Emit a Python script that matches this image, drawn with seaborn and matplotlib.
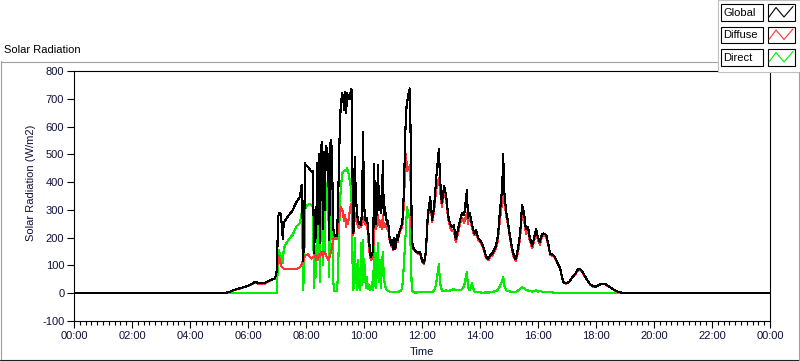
import matplotlib
matplotlib.use("Agg")
import numpy as np
import pandas as pd
import matplotlib.pyplot as plt
import seaborn as sns
from matplotlib.patches import Rectangle
from matplotlib.lines import Line2D
from matplotlib.ticker import FixedLocator, MultipleLocator

# ---------------- data (minutes since midnight, W/m2) ----------------
minutes = [
    0, 312, 323, 333, 343, 354, 364, 375, 381, 395, 401, 416, 420,
    422, 424, 426, 428, 430, 432, 434, 437, 441, 445, 449, 453, 457, 461, 466,
    468, 470, 472, 474, 476, 478, 480, 484, 488, 492, 494, 497, 499, 501, 503,
    505, 507, 509, 511, 513, 515, 517, 519, 521, 523, 526, 528, 530, 532, 534,
    536, 538, 540, 542, 544, 546, 548, 550, 552, 555, 557, 559, 561, 563, 565,
    567, 569, 571, 573, 575, 577, 579, 581, 583, 586, 588, 590, 592, 594, 596,
    598, 600, 602, 604, 606, 608, 610, 612, 614, 617, 619, 621, 623, 625, 627,
    629, 631, 633, 635, 637, 639, 641, 643, 646, 648, 650, 652, 654, 656, 658,
    660, 662, 664, 666, 668, 670, 672, 675, 677, 679, 681, 683, 685, 687, 689,
    691, 693, 695, 697, 699,
    703, 708, 712, 716, 720, 724, 728, 732, 737, 741, 745, 749, 753, 755, 757,
    761, 766, 770, 774, 778, 782, 786, 790, 795, 799, 803, 807, 811, 813, 815,
    819, 823, 828, 832, 836, 840, 844, 848, 852, 857, 861, 865, 869, 873, 877,
    881, 886, 888, 890, 894, 898, 902, 906, 910, 914, 919, 923, 927, 931, 935,
    939, 943, 948, 952, 956, 960, 964, 968, 972, 977, 981, 985, 989, 993, 997,
    1001, 1006,
    1012, 1018, 1024, 1030, 1037, 1043, 1049, 1055, 1061, 1068, 1074, 1080,
    1086, 1092, 1099, 1105, 1111, 1117, 1123, 1130, 1136, 1142, 1440,
]

global_rad = [
    0, 0, 6, 13, 18, 23, 30, 41, 37, 37, 43, 54, 83,
    270, 288, 290, 285, 240, 195, 255, 263, 272, 282, 290, 300, 318, 330, 342,
    350, 385, 389, 115, 200, 467, 460, 455, 445, 436, 440, 145, 300, 200, 470,
    250, 500, 180, 520, 545, 230, 510, 300, 530, 520, 480, 190, 540, 550, 490,
    240, 215, 205, 210, 205, 300, 450, 600, 680, 720, 700, 660, 725, 650, 720,
    700, 715, 700, 735, 731, 216, 230, 490, 350, 280, 260, 250, 255, 245, 300,
    580, 330, 270, 260, 270, 240, 200, 160, 130, 145, 150, 465, 270, 250, 330,
    460, 300, 350, 290, 320, 475, 280, 310, 270, 250, 260, 210, 190, 175, 190,
    160, 200, 160, 170, 210, 190, 215, 230, 240, 250, 300, 400, 550, 650, 690,
    700, 730, 737, 500, 185,
    160, 150, 145, 148, 119, 108, 150, 280, 345, 265, 310, 405, 480, 521, 420,
    325, 385, 350, 280, 250, 240, 245, 195, 235, 265, 290, 280, 340, 370, 270,
    290, 250, 215, 228, 200, 190, 180, 160, 135, 122, 137, 142, 155, 170, 205,
    290, 380, 503, 370, 295, 255, 205, 165, 135, 122, 165, 215, 317, 290, 230,
    240, 200, 170, 200, 232, 200, 185, 212, 215, 210, 180, 143, 140, 135, 122,
    107, 88,
    40, 36, 40, 55, 70, 87, 85, 68, 50, 32, 25, 24,
    30, 34, 33, 27, 20, 13, 7, 3, 1, 0, 0,
]

diffuse_rad = [
    0, 0, 5, 12, 17, 22, 29, 40, 34, 34, 42, 53, 82,
    130, 133, 120, 101, 95, 92, 88, 86, 86, 86, 87, 88, 86, 88, 92,
    95, 100, 112, 112, 125, 135, 138, 140, 130, 125, 130, 130, 140, 120, 135,
    125, 140, 130, 145, 150, 130, 145, 150, 140, 130, 120, 125, 140, 150, 170,
    190, 200, 195, 200, 195, 230, 260, 290, 310, 300, 280, 260, 280, 240, 260,
    250, 280, 300, 320, 300, 210, 220, 290, 270, 250, 240, 235, 245, 240, 250,
    275, 260, 250, 245, 250, 220, 170, 140, 120, 125, 140, 265, 245, 230, 260,
    280, 250, 240, 260, 230, 280, 240, 250, 240, 230, 240, 200, 185, 170, 180,
    155, 190, 160, 165, 200, 185, 210, 225, 232, 240, 270, 360, 420, 500, 440,
    450, 445, 460, 380, 175,
    157, 148, 142, 144, 116, 104, 145, 270, 330, 258, 295, 370, 395, 415, 380,
    312, 370, 335, 270, 238, 225, 228, 183, 220, 252, 272, 252, 278, 290, 248,
    280, 240, 208, 222, 194, 185, 176, 156, 130, 118, 132, 135, 148, 160, 190,
    262, 330, 430, 335, 282, 245, 197, 158, 130, 116, 152, 198, 290, 268, 215,
    228, 190, 163, 190, 218, 192, 175, 204, 208, 203, 175, 139, 136, 132, 120,
    106, 86,
    39, 35, 39, 54, 68, 84, 82, 66, 49, 31, 24, 23,
    29, 33, 32, 26, 19, 12, 6, 3, 1, 0, 0,
]

direct_rad = [
    0, 0, 0, 0, 0, 0, 0, 0, 0, 0, 0, 0, 0,
    140, 155, 140, 130, 126, 110, 160, 173, 185, 195, 203, 212, 230, 242, 250,
    255, 287, 280, 10, 75, 300, 312, 318, 322, 315, 310, 20, 160, 60, 330,
    120, 360, 40, 370, 390, 100, 360, 150, 390, 395, 360, 60, 400, 395, 320,
    50, 10, 8, 8, 8, 60, 190, 310, 380, 430, 438, 440, 445, 440, 450,
    440, 420, 400, 380, 300, 10, 20, 200, 60, 10, 120, 20, 10, 180, 30,
    190, 40, 100, 20, 60, 15, 30, 10, 15, 40, 10, 200, 30, 20, 110,
    180, 40, 120, 20, 90, 150, 60, 30, 15, 10, 8, 8, 5, 5, 5,
    4, 5, 4, 5, 5, 6, 6, 8, 10, 20, 60, 120, 180, 240, 311,
    290, 280, 270, 120, 10,
    3, 2, 3, 4, 3, 4, 5, 4, 6, 5, 8, 30, 80, 105, 40,
    10, 8, 10, 8, 10, 12, 15, 10, 12, 10, 15, 25, 60, 78, 20,
    10, 35, 6, 5, 4, 3, 2, 2, 3, 2, 3, 5, 6, 8, 12,
    25, 45, 60, 30, 10, 8, 6, 5, 4, 5, 10, 15, 22, 18, 12,
    10, 8, 6, 8, 10, 6, 8, 6, 5, 5, 4, 3, 3, 2, 1,
    0, 0,
    0, 0, 0, 0, 0, 0, 0, 0, 0, 0, 0, 0,
    0, 0, 0, 0, 0, 0, 0, 0, 0, 0, 0,
]

series_names = ["Global", "Diffuse", "Direct"]
series_colors = {"Global": "#000000", "Diffuse": "#ff3333", "Direct": "#00ee00"}
x_tick_minutes = [0, 120, 240, 360, 480, 600, 720, 840, 960, 1080, 1200, 1320, 1440]
x_tick_labels = ["00:00", "02:00", "04:00", "06:00", "08:00", "10:00", "12:00",
                 "14:00", "16:00", "18:00", "20:00", "22:00", "00:00"]
y_ticks = [-100, 0, 100, 200, 300, 400, 500, 600, 700, 800]

# ---------------- figure ----------------
sns.set_theme(style="white")
plt.rcParams['font.family'] = ['Liberation Sans', 'DejaVu Sans']

W, H = 800, 361
fig = plt.figure(figsize=(W / 100, H / 100), dpi=100)
fig.patch.set_facecolor("white")


def P(x, y):
    return (x / W, 1 - y / H)


ax = fig.add_axes([74 / W, 40 / H, 696 / W, 250 / H])
ax.set_facecolor("white")

df = pd.concat([
    pd.DataFrame({"minute": minutes, "value": global_rad, "series": "Global"}),
    pd.DataFrame({"minute": minutes, "value": diffuse_rad, "series": "Diffuse"}),
    pd.DataFrame({"minute": minutes, "value": direct_rad, "series": "Direct"}),
], ignore_index=True)

sns.lineplot(data=df, x="minute", y="value", hue="series",
             hue_order=["Direct", "Diffuse", "Global"], palette=series_colors,
             estimator=None, sort=False, legend=False, linewidth=0.8, ax=ax)
for ln in ax.lines:
    ln.set_antialiased(False)

ax.set_xlim(0, 1440)
ax.set_ylim(-100, 800)
ax.xaxis.set_major_locator(FixedLocator(x_tick_minutes))
ax.set_xticks(x_tick_minutes)
ax.set_xticklabels(x_tick_labels)
ax.xaxis.set_minor_locator(MultipleLocator(12))
ax.set_yticks(y_ticks)
ax.set_yticklabels([str(v) for v in y_ticks])

for s in ax.spines.values():
    s.set_color("black")
    s.set_linewidth(0.8)

label_color = "#10103a"
ax.tick_params(axis="both", which="major", direction="out", length=5, width=0.8,
               color="black", labelsize=8, labelcolor=label_color, pad=2,
               bottom=True, left=True)
ax.tick_params(axis="x", which="minor", direction="out", length=3, width=0.8,
               color="black", bottom=True)
ax.grid(False)

ax.set_xlabel("Time", fontsize=8, color=label_color)
ax.set_ylabel("Solar Radiation (W/m2)", fontsize=8, color=label_color)
ax.xaxis.set_label_coords(0.5, -0.105)
ax.yaxis.set_label_coords(-0.055, 0.552)

# ---------------- outer frame ----------------
frame_grey = "#a0a0a0"
fig.add_artist(Line2D([P(0.5, 61)[0], P(717, 61)[0]], [P(0, 61.5)[1]] * 2,
                      transform=fig.transFigure, color=frame_grey, lw=0.8))
fig.add_artist(Line2D([P(0.8, 0)[0]] * 2, [P(0, 61)[1], P(0, 361)[1]],
                      transform=fig.transFigure, color=frame_grey, lw=0.8))
fig.add_artist(Line2D([P(0, 0)[0], P(799, 0)[0]], [P(0, 359.8)[1]] * 2,
                      transform=fig.transFigure, color="#202020", lw=0.8))
fig.add_artist(Line2D([P(798.5, 0)[0]] * 2, [P(0, 72)[1], P(0, 361)[1]],
                      transform=fig.transFigure, color=frame_grey, lw=0.8))

fig.text(*P(4, 50), "Solar Radiation", fontsize=8, color="black",
         ha="left", va="center")

# ---------------- legend panel ----------------
fig.add_artist(Rectangle(P(717.5, 72), 82 / W, 72 / H, transform=fig.transFigure,
                         facecolor="white", edgecolor="#c0c0c0", lw=0.8))
rows = [4.5, 27, 49.5]
for name, ytop in zip(series_names, rows):
    fig.add_artist(Rectangle(P(720.5, ytop + 16), 42 / W, 16 / H,
                             transform=fig.transFigure, facecolor="white",
                             edgecolor="black", lw=0.8))
    fig.text(*P(723, ytop + 8.5), name, fontsize=8, color="black",
             ha="left", va="center")
    fig.add_artist(Rectangle(P(767.5, ytop + 16), 27 / W, 16 / H,
                             transform=fig.transFigure, facecolor="white",
                             edgecolor="black", lw=0.8))
    zx = [769, 776, 784, 793]
    zy = [ytop + 12.5, ytop + 3, ytop + 12.5, ytop + 2]
    fig.add_artist(Line2D([P(x, 0)[0] for x in zx], [P(0, y)[1] for y in zy],
                          transform=fig.transFigure, color=series_colors[name],
                          lw=0.8))

fig.savefig("out.png", dpi=100, facecolor="white")
